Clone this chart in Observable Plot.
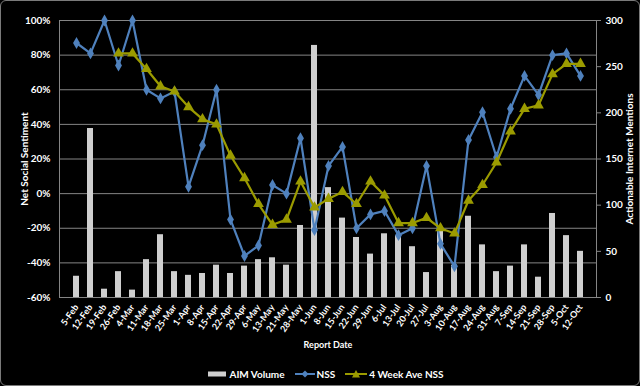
<!DOCTYPE html>
<html><head><meta charset="utf-8">
<script src="https://cdn.jsdelivr.net/npm/d3@7"></script>
<script src="https://cdn.jsdelivr.net/npm/@observablehq/plot@0.6"></script>
<style>
html,body{margin:0;padding:0;background:#000;}
#wrap{position:relative;width:640px;height:386px;overflow:hidden;font-family:Lato,"Open Sans",sans-serif;}
#border{position:absolute;left:0;top:0;width:640px;height:386px;box-sizing:border-box;border:1px solid #7a7a7a;border-radius:6px;pointer-events:none;}
#legend{display:flex;justify-content:center;align-items:center;height:24px;color:#fff;font-size:10px;font-weight:bold;padding-left:12px;}
#legend .item{display:flex;align-items:center;margin:0 5px;}
#legend svg{margin-right:2px;}
</style>
</head><body>
<div id="wrap"><div id="chart"></div>
<div id="legend">
  <span class="item"><svg width="19" height="8"><rect x="0" y="1.5" width="18" height="5" fill="#cfcfcf"/></svg>AIM Volume</span>
  <span class="item"><svg width="20" height="10"><line x1="0" y1="5" x2="20" y2="5" stroke="#4f81bd" stroke-width="2"/><path d="M10 1.5 L13.5 5 L10 8.5 L6.5 5Z" fill="#4f81bd"/></svg>NSS</span>
  <span class="item"><svg width="22" height="10"><line x1="0" y1="5" x2="22" y2="5" stroke="#9b9b00" stroke-width="2"/><path d="M11 1 L15 8.5 L7 8.5Z" fill="#9b9b00"/></svg>4 Week Ave NSS</span>
</div>
<div id="border"></div></div>
<script>
const dates = ["5-Feb","12-Feb","19-Feb","26-Feb","4-Mar","11-Mar","18-Mar","25-Mar","1-Apr","8-Apr","15-Apr","22-Apr","29-Apr","6-May","13-May","21-May","28-May","1-Jun","8-Jun","15-Jun","22-Jun","29-Jun","6-Jul","13-Jul","20-Jul","27-Jul","3-Aug","10-Aug","17-Aug","24-Aug","31-Aug","7-Sep","14-Sep","21-Sep","28-Sep","5-Oct","12-Oct"];
const nss = [87,81,100,74,100,60,55,59,4,28,60,-15,-36,-30,5,0,32,-21,16,27,-20,-12,-10,-24,-20,16,-29,-42,31,47,21,49,68,57,80,81,68];
const avg4 = [null,null,null,81,81,72,62,59,50,43,40,22,9,-6,-18,-15,7,-8,-3,1,-6,7,-1,-17,-17,-14,-20,-23,-4,5,18,36,49,51,69,75,75];
const aim = [23,183,9,28,8,41,68,28,24,26,35,26,34,41,43,35,78,273,119,86,65,47,69,67,55,27,74,35,88,57,28,34,57,22,91,67,50];
const leftTicks = [-60,-40,-20,0,20,40,60,80,100];
const rightTicks = [0,50,100,150,200,250,300];

const lo = -0.6, hi = 1.0, rmax = 300;
const toLeft = v => lo + v / rmax * (hi - lo);
const fromLeft = y => Math.round((y - lo) / (hi - lo) * rmax);

const rows = dates.map((d, i) => ({date: d, nss: nss[i] / 100, avg: avg4[i] == null ? null : avg4[i] / 100, aim: aim[i]}));
const avgRows = rows.filter(d => d.avg != null);

const blue = "#4f81bd", olive = "#9b9b00", grid = "#858585";

const plot = Plot.plot({
  width: 640, height: 362,
  marginLeft: 59, marginRight: 44, marginTop: 20, marginBottom: 65,
  style: {background: "#000", color: "#fff", fontFamily: "Lato, 'Open Sans', sans-serif", fontSize: "10px", fontWeight: "bold"},
  x: {type: "band", domain: dates, paddingInner: 0.58, paddingOuter: 0.29},
  y: {domain: [lo, hi]},
  marks: [
    Plot.gridY(leftTicks.map(v => v / 100), {stroke: grid, strokeOpacity: 1}),
    Plot.frame({stroke: grid}),
    Plot.barY(rows, {x: "date", y1: d => toLeft(0), y2: d => toLeft(d.aim), fill: "#cfcfcf"}),
    Plot.line(rows, {x: "date", y: "nss", stroke: blue, strokeWidth: 2.2}),
    Plot.dot(rows, {x: "date", y: "nss", symbol: "diamond", fill: blue, r: 3.6}),
    Plot.line(avgRows, {x: "date", y: "avg", stroke: olive, strokeWidth: 2.2}),
    Plot.dot(avgRows, {x: "date", y: "avg", symbol: "triangle", fill: olive, r: 4}),
    Plot.axisY(leftTicks.map(v => v / 100), {anchor: "left", tickSize: 0, tickPadding: 9,
      tickFormat: v => Math.round(v * 100) + "%",
      label: "Net Social Sentiment", labelAnchor: "center", labelOffset: 39, labelArrow: "none"}),
    Plot.axisY(rightTicks.map(toLeft), {anchor: "right", tickSize: 4, tickPadding: 5, stroke: grid,
      tickFormat: v => String(fromLeft(v)),
      label: "Actionable Internet Mentions", labelAnchor: "center", labelOffset: 36, labelArrow: "none"}),
    Plot.axisX({tickRotate: -55, tickSize: 0, tickPadding: 8, fontSize: 9,
      label: "Report Date", labelAnchor: "center", labelOffset: 50, labelArrow: "none"})
  ]
});
document.getElementById("chart").appendChild(plot);
</script>
</body></html>
